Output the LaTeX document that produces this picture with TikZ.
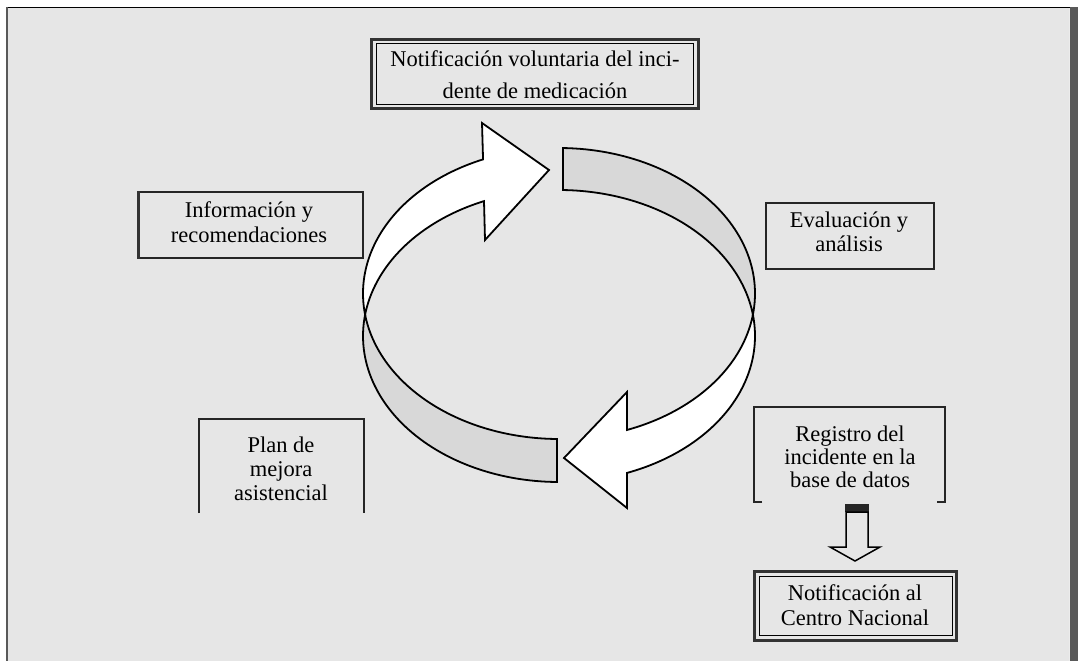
\documentclass[tikz,border=0pt]{standalone}
\usepackage{fontspec}
\setmainfont{Liberation Serif}
\definecolor{bg}{HTML}{E6E6E6}
\definecolor{band}{HTML}{D8D8D8}
\definecolor{frameR}{HTML}{595959}
\begin{document}
\begin{tikzpicture}[x=1pt,y=-1pt,
  txt/.style={font=\fontsize{22.5}{#1}\selectfont, align=center, inner sep=0pt},
  txt/.default=25,
  ribbon/.style={draw=black, line width=1.8pt, line join=miter},
  boxline/.style={draw=black!85, line width=2pt},
]
\useasboundingbox (0,0) rectangle (1078,661);
% frame
\fill[bg] (6,7) rectangle (1070,661);
\fill[frameR] (1070,7) rectangle (1078,661);
\draw[white!85!gray, line width=0.8pt] (1069.6,7) -- (1069.6,661);
\draw[black, line width=1.5pt] (6,7.3) -- (1070,7.3);
\draw[frameR, line width=2pt] (6.5,7) -- (6.5,661);

% cycle ribbon
\filldraw[fill=band, ribbon]
  plot[domain=271.17:368.5, samples=60] ({559+196*cos(\x)},{293.5+145.5*sin(\x)})
  -- plot[domain=351.73:271.17, samples=60] ({559+196*cos(\x)},{336+146*sin(\x)}) -- cycle;
\filldraw[fill=band, ribbon]
  plot[domain=90.6:171.5, samples=60] ({559+196*cos(\x)},{293.5+145.5*sin(\x)})
  -- plot[domain=188.27:90.6, samples=60] ({559+196*cos(\x)},{336+146*sin(\x)}) -- cycle;
\filldraw[fill=white, ribbon]
  plot[domain=171.5:247.2, samples=60] ({559+196*cos(\x)},{293.5+145.5*sin(\x)})
  -- (482,123) -- (549,170) -- (485,240)
  -- plot[domain=247.5:188.27, samples=60] ({559+196*cos(\x)},{336+146*sin(\x)}) -- cycle;
\filldraw[fill=white, ribbon]
  plot[domain=8.5:69.7, samples=60] ({559+196*cos(\x)},{293.5+145.5*sin(\x)})
  -- (627,392) -- (564,458) -- (627,508)
  -- plot[domain=69.7:-8.27, samples=60] ({559+196*cos(\x)},{336+146*sin(\x)}) -- cycle;

% box 1 (double frame)
\draw[black!80, line width=3pt] (371.5,39.5) rectangle (698.5,108.5);
\draw[black, line width=1pt] (376.5,44) rectangle (693.5,104);
\node[txt=32] (notif) at (535,75) {Notificación voluntaria del inci-\\dente de medicación};

% Informacion
\draw[boxline] (138.5,192) rectangle (363,258);
\draw[black!80, line width=3pt] (138.5,191) -- (138.5,259);
\node[txt] (info) at (249,222) {Información y\\recomendaciones};

% Evaluacion
\draw[boxline] (765.5,203) rectangle (934,269);
\node[txt=24] (eval) at (849,232) {Evaluación y\\análisis};

% Plan
\draw[boxline] (199,513) -- (199,418.5) -- (363.5,418.5) -- (363.5,513);
\node[txt=24] (plan) at (281,468.5) {Plan de\\mejora\\asistencial};

% Registro
\draw[boxline] (762,502) -- (754,502) -- (754,407) -- (944.5,407) -- (944.5,502) -- (937,502);
\node[txt=23] (reg) at (850,457) {Registro del\\incidente en la\\base de datos};

% down block arrow
\fill[black!85] (845,504) rectangle (869,512);
\filldraw[fill=bg, draw=black, line width=1.5pt]
  (846,512) -- (846,547) -- (830,547) -- (855,561) -- (880,547) -- (868,547) -- (868,512) -- cycle;

% Notificacion al Centro Nacional (double frame)
\draw[black!80, line width=3pt] (754.5,571.5) rectangle (956.5,640.5);
\draw[black, line width=1pt] (759,576) rectangle (952,635);
\node[txt] (centro) at (855,605) {Notificación al\\Centro Nacional};
\end{tikzpicture}
\end{document}
